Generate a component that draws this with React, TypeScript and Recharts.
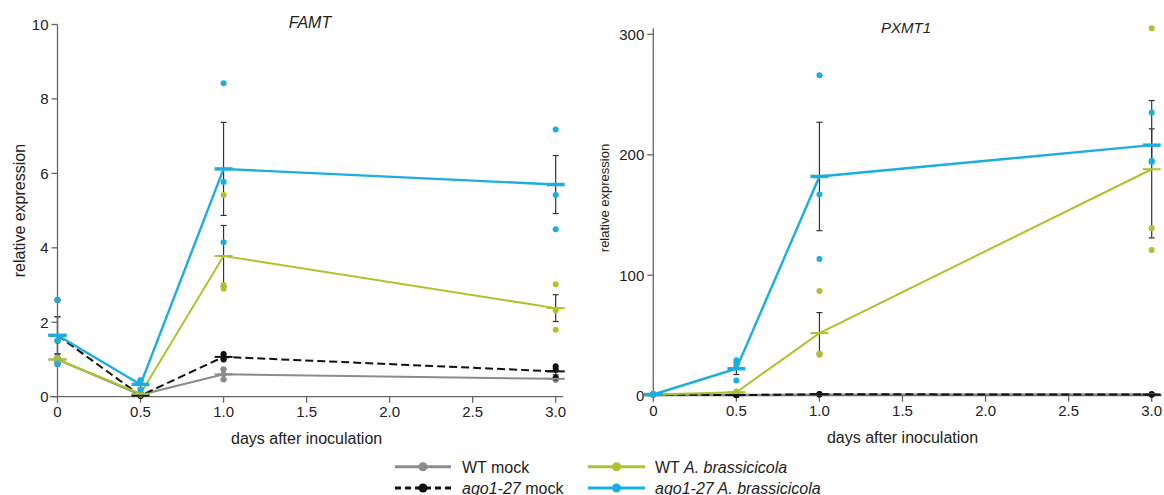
import React from "react";
import {
  ComposedChart,
  Line,
  Scatter,
  XAxis,
  YAxis,
  ErrorBar,
  ReferenceLine,
} from "recharts";

// sampling times (days after inoculation)
const days = [0, 0.5, 1, 3];
const xTicks = [0, 0.5, 1, 1.5, 2, 2.5, 3];
const famtTicks = [0, 2, 4, 6, 8, 10];
const pxmtTicks = [0, 100, 200, 300];

// FAMT: means, SE, single replicates
const famtWtMock = [1.0, 0.05, 0.6, 0.48];
const famtWtMockSe = [0.05, 0.02, 0.14, 0.03];
const famtWtMockReps = [[1.05, 1.0, 0.95], [0.07, 0.05, 0.03], [0.74, 0.6, 0.46], [0.5, 0.48, 0.45]];

const famtAgoMock = [1.65, 0.03, 1.07, 0.68];
const famtAgoMockSe = [0.5, 0.02, 0.07, 0.09];
const famtAgoMockReps = [[2.6, 1.5, 0.88], [0.05, 0.03, 0.02], [1.15, 1.05, 1.0], [0.82, 0.72, 0.51]];

const famtWtAb = [1.0, 0.08, 3.78, 2.38];
const famtWtAbSe = [0.05, 0.03, 0.82, 0.36];
const famtWtAbReps = [[1.02, 1.0, 0.98], [0.1, 0.08, 0.05], [5.42, 3.0, 2.9], [3.02, 2.32, 1.8]];

const famtAgoAb = [1.65, 0.33, 6.12, 5.7];
const famtAgoAbSe = [0.5, 0.1, 1.25, 0.78];
const famtAgoAbReps = [[2.6, 1.5, 0.88], [0.45, 0.36, 0.18], [8.42, 5.77, 4.15], [7.18, 5.42, 4.5]];

// PXMT1
const pxmtWtMock = [1.0, 0.8, 1.0, 1.2];
const pxmtWtMockSe = [0.1, 0.1, 0.2, 0.3];
const pxmtWtMockReps = [[1.1, 1.0, 0.9], [0.9, 0.8, 0.7], [1.2, 1.0, 0.8], [1.5, 1.2, 0.9]];

const pxmtAgoMock = [1.0, 0.5, 1.2, 0.9];
const pxmtAgoMockSe = [0.1, 0.1, 0.2, 0.2];
const pxmtAgoMockReps = [[1.1, 1.0, 0.9], [0.6, 0.5, 0.4], [1.4, 1.2, 1.0], [1.1, 0.9, 0.7]];

const pxmtWtAb = [1.0, 2.9, 52, 188];
const pxmtWtAbSe = [0.1, 0.5, 17, 57];
const pxmtWtAbReps = [[1.0, 1.0, 1.0], [3.5, 2.8, 2.4], [87, 35, 34], [305, 139, 121]];

const pxmtAgoAb = [1.0, 22.4, 182, 208];
const pxmtAgoAbSe = [0.3, 4.8, 45, 13.5];
const pxmtAgoAbReps = [[1.5, 1.0, 0.5], [29.5, 25, 12.7], [266, 167, 113.5], [235, 195, 194]];

const seriesNames = ["WT mock", "ago1-27 mock", "WT A. brassicicola", "ago1-27 A. brassicicola"];

// legend text pieces: [text, italic]
const legendParts: [string, boolean][][] = [
  [["WT mock", false]],
  [["ago1-27", true], [" mock", false]],
  [["WT ", false], ["A. brassicicola", true]],
  [["ago1-27 A. brassicicola", true]],
];

const styles = [
  { color: "#8c8c8c", dash: undefined as string | undefined, width: 2, mark: 2 },
  { color: "#111111", dash: "8 4", width: 2, mark: 2 },
  { color: "#a8c52c", dash: undefined, width: 2, mark: 2 },
  { color: "#1daee1", dash: undefined, width: 2.4, mark: 3.5 },
];

const FONT = '"Liberation Sans", Arial, Helvetica, sans-serif';

type Series = { mean: number[]; se: number[]; reps: number[][] };

const famtSeries: Series[] = [
  { mean: famtWtMock, se: famtWtMockSe, reps: famtWtMockReps },
  { mean: famtAgoMock, se: famtAgoMockSe, reps: famtAgoMockReps },
  { mean: famtWtAb, se: famtWtAbSe, reps: famtWtAbReps },
  { mean: famtAgoAb, se: famtAgoAbSe, reps: famtAgoAbReps },
];

const pxmtSeries: Series[] = [
  { mean: pxmtWtMock, se: pxmtWtMockSe, reps: pxmtWtMockReps },
  { mean: pxmtAgoMock, se: pxmtAgoMockSe, reps: pxmtAgoMockReps },
  { mean: pxmtWtAb, se: pxmtWtAbSe, reps: pxmtWtAbReps },
  { mean: pxmtAgoAb, se: pxmtAgoAbSe, reps: pxmtAgoAbReps },
];

const meanRows = (s: Series) => days.map((d, i) => ({ day: d, value: s.mean[i], se: s.se[i] }));
const repRows = (s: Series) => days.flatMap((d, i) => s.reps[i].map((v) => ({ day: d, value: v })));

const fmtX = (v: number) => (v === 0 ? "0" : v.toFixed(1));

type PanelProps = {
  series: Series[];
  width: number;
  margin: { top: number; right: number; bottom: number; left: number };
  yWidth: number;
  yTicks: number[];
  yMax: number;
  axisExt: [number, number];
  yLabel: { dx: number; dy: number; size: number };
};

function Panel({ series, width, margin, yWidth, yTicks, yMax, axisExt, yLabel }: PanelProps) {
  const tickStyle = { fontSize: 15, fill: "#222", fontFamily: FONT };
  // rotated y axis title, placed relative to the axis box
  const yTitle = (props: any) => {
    const vb = props.viewBox;
    const x = vb.x + yLabel.dx;
    const y = vb.y + vb.height / 2 + yLabel.dy;
    return (
      <text
        x={x}
        y={y}
        transform={`rotate(-90, ${x}, ${y})`}
        textAnchor="middle"
        dominantBaseline="central"
        fontSize={yLabel.size}
        fontFamily={FONT}
        fill="#222"
      >
        relative expression
      </text>
    );
  };
  return (
    <ComposedChart width={width} height={495} margin={margin}>
      <XAxis
        dataKey="day"
        type="number"
        domain={[0, 3]}
        ticks={xTicks}
        tickFormatter={fmtX}
        axisLine={false}
        tickLine={{ stroke: "#666", strokeWidth: 1.3 }}
        tickSize={6}
        tickMargin={4}
        tick={tickStyle}
        height={50}
        label={{
          value: "days after inoculation",
          position: "insideBottom",
          offset: 3,
          style: { fontSize: 16, fill: "#222", fontFamily: FONT },
        }}
      />
      <YAxis
        type="number"
        domain={[0, yMax]}
        ticks={yTicks}
        width={yWidth}
        axisLine={{ stroke: "#666", strokeWidth: 1.3 }}
        tickLine={{ stroke: "#666", strokeWidth: 1.3 }}
        tickSize={6}
        tickMargin={3}
        tick={tickStyle}
        label={yTitle}
      />
      <ReferenceLine
        segment={[
          { x: axisExt[0], y: 0 },
          { x: axisExt[1], y: 0 },
        ]}
        ifOverflow="visible"
        stroke="#666"
        strokeWidth={1.3}
      />
      {series.map((s, k) => (
        <Line
          key={`line-${k}`}
          data={meanRows(s)}
          dataKey="value"
          name={seriesNames[k]}
          stroke={styles[k].color}
          strokeWidth={styles[k].width}
          strokeDasharray={styles[k].dash}
          isAnimationActive={false}
          activeDot={false}
          dot={(p: any) => (
            <line
              key={`m-${k}-${p.index}`}
              x1={p.cx - 9}
              x2={p.cx + 9}
              y1={p.cy}
              y2={p.cy}
              stroke={styles[k].color}
              strokeWidth={styles[k].mark}
            />
          )}
        >
          <ErrorBar dataKey="se" direction="y" width={3} stroke="#333" strokeWidth={1.2} />
        </Line>
      ))}
      {series.map((s, k) => (
        <Scatter
          key={`pts-${k}`}
          data={repRows(s)}
          dataKey="value"
          fill={styles[k].color}
          isAnimationActive={false}
          shape={(p: any) => <circle cx={p.cx} cy={p.cy} r={3} fill={styles[k].color} />}
        />
      ))}
    </ComposedChart>
  );
}

function Legend() {
  const cols = [
    { x0: 395, x1: 451, text: 462 },
    { x0: 588, x1: 645, text: 655 },
  ];
  const rows = [16.7, 38];
  // order: col1 row1 WT mock, col1 row2 ago mock, col2 row1 WT Ab, col2 row2 ago Ab
  return (
    <svg width={1164} height={45} style={{ position: "absolute", left: 0, top: 450 }}>
      {seriesNames.map((n, k) => {
        const c = cols[Math.floor(k / 2)];
        const y = rows[k % 2];
        return (
          <g key={n}>
            <line
              x1={c.x0}
              x2={c.x1}
              y1={y}
              y2={y}
              stroke={styles[k].color}
              strokeWidth={3}
              strokeDasharray={styles[k].dash ? "6 4" : undefined}
            />
            <circle cx={(c.x0 + c.x1) / 2} cy={y} r={4.5} fill={styles[k].color} />
            <text x={c.text} y={y} dominantBaseline="central" fontSize={16} fontFamily={FONT} fill="#222">
              {legendParts[k].map(([t, it], j) => (
                <tspan key={j} fontStyle={it ? "italic" : "normal"}>
                  {t}
                </tspan>
              ))}
            </text>
          </g>
        );
      })}
    </svg>
  );
}

export default function App() {
  return (
    <div
      style={{
        position: "absolute",
        left: 0,
        top: 0,
        width: 1164,
        height: 495,
        background: "#fff",
        fontFamily: FONT,
        overflow: "hidden",
      }}
    >
      <div style={{ position: "absolute", left: 0, top: 0 }}>
        <Panel
          series={famtSeries}
          width={580}
          margin={{ top: 24.5, right: 24.3, bottom: 48.3, left: 7.5 }}
          yWidth={50}
          yTicks={famtTicks}
          yMax={10}
          axisExt={[-0.045, 3.045]}
          yLabel={{ dx: 12.5, dy: 0, size: 16 }}
        />
      </div>
      <div style={{ position: "absolute", left: 580, top: 0 }}>
        <Panel
          series={pxmtSeries}
          width={584}
          margin={{ top: 28.3, right: 12.3, bottom: 49.3, left: 13.3 }}
          yWidth={60}
          yTicks={pxmtTicks}
          yMax={300}
          axisExt={[-0.05, 3.06]}
          yLabel={{ dx: 10.7, dy: -14, size: 13 }}
        />
      </div>
      <div
        style={{
          position: "absolute",
          left: 260,
          width: 100,
          top: 14,
          textAlign: "center",
          fontSize: 16,
          fontStyle: "italic",
          color: "#222",
        }}
      >
        FAMT
      </div>
      <div
        style={{
          position: "absolute",
          left: 856,
          width: 100,
          top: 19,
          textAlign: "center",
          fontSize: 15,
          fontStyle: "italic",
          color: "#222",
        }}
      >
        PXMT1
      </div>
      <Legend />
    </div>
  );
}
